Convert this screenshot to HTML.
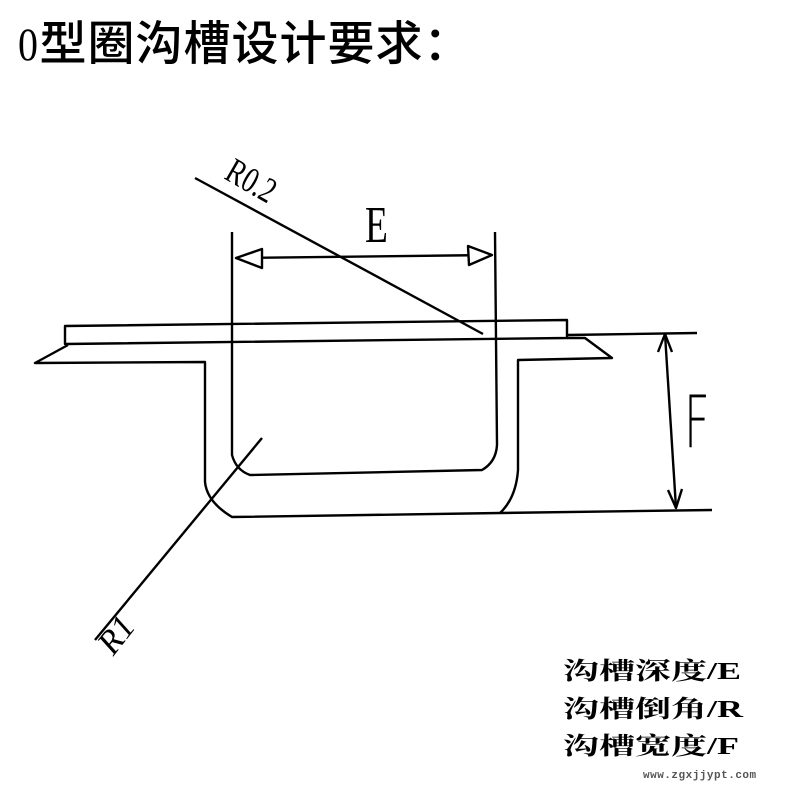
<!DOCTYPE html>
<html><head><meta charset="utf-8"><style>
html,body{margin:0;padding:0;background:#fff;}
body{width:800px;height:800px;position:relative;overflow:hidden;}
.t{position:absolute;white-space:nowrap;color:#000;}
</style></head><body>
<div class="t" style="left:18px;top:14px;font:500 47px/60px 'Liberation Sans','Noto Sans CJK SC',sans-serif;letter-spacing:1px;"><span style="font-family:'Liberation Serif',serif;font-weight:400;display:inline-block;transform:scaleX(0.85);transform-origin:0 0;margin-right:-3px;">0</span>型圈沟槽设计要求：</div>
<div class="t" style="left:563px;top:654px;font:bold 24px/37.5px 'Liberation Serif','Noto Serif CJK SC',serif;transform:scaleX(1.5);transform-origin:0 0;">沟槽深度/E<br>沟槽倒角/R<br>沟槽宽度/F</div>
<div class="t" style="left:643px;top:769px;font:bold 11px/14px 'Liberation Mono',monospace;color:#555;letter-spacing:0.5px;">www.zgxjjypt.com</div>
<svg width="800" height="800" style="position:absolute;left:0;top:0" fill="none" stroke="#000" stroke-width="2.4" stroke-linejoin="round">
<path d="M65,326 L567,320 L567,338 L65,344 Z"/>
<path d="M68,345 L35,363 L205,362 L205,482 Q207,502 232,517 L500,513"/>
<path d="M500,513 Q516,498 518,470 L518,360 L612,358 L585,338 L567,338"/>
<path d="M567,335 L697,333"/>
<path d="M500,513 L712,510"/>
<path d="M232,344 L232,455 Q236,470 250,475 L482,470 Q496,462 497,445 L495,232"/>
<path d="M232,232 L232,344"/>
<path d="M236,258 L492,255"/>
<path d="M262,249 L236,258 L262,268 Z" fill="#fff"/>
<path d="M468,246 L492,255 L469,265 Z" fill="#fff"/>
<path d="M195,178 L483,334"/>
<path d="M262,438 L95,640"/>
<path d="M665,334 L676,508"/>
<path d="M658,352 L665,334 L672,352"/>
<path d="M668,490 L676,508 L682,489"/>
</svg>
<div class="t" style="left:238px;top:152px;font:36px/36px 'Liberation Serif',serif;transform:rotate(30deg) scaleX(0.75);transform-origin:0 0;">R0.2</div>
<div class="t" style="left:365px;top:200px;font:52px/52px 'Liberation Serif',serif;transform:scaleX(0.72);transform-origin:0 0;">E</div>
<div class="t" style="left:684px;top:386px;font:200 72px/72px 'DejaVu Sans',sans-serif;transform:scaleX(0.62);transform-origin:0 0;">F</div>
<div class="t" style="left:92px;top:640px;font:italic 34px/34px 'Liberation Serif',serif;transform:rotate(-52deg);transform-origin:0 0;">R1</div>
</body></html>
